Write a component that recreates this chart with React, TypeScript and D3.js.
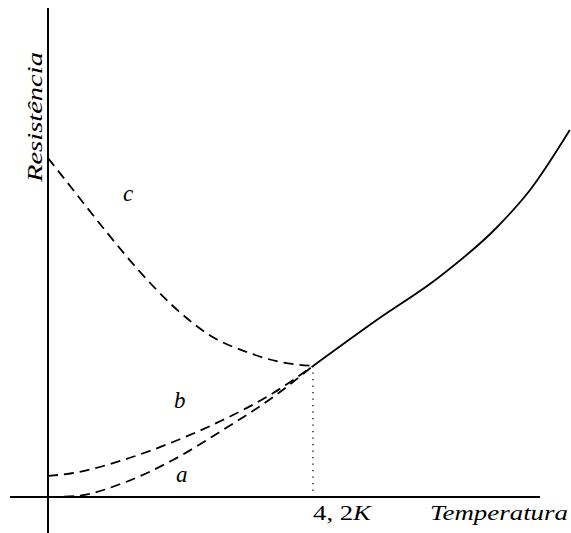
import React from 'react';
import * as d3 from 'd3';

// curve data: temperature (arbitrary units, 4.2 = critical point), resistance (arbitrary)
const solidCurve: [number, number][] = [
  [4.2, 13.1], [5.21, 17.7], [6.18, 21.9], [7.12, 27.0], [7.64, 30.7], [8.27, 36.7],
];
const curveC: [number, number][] = [
  [0, 33.9], [0.4, 30.7], [0.94, 26.4], [1.46, 22.5], [1.98, 19.1], [2.61, 16.0], [3.15, 14.5], [3.68, 13.5], [4.2, 13.1],
];
const curveB: [number, number][] = [
  [0, 2.1], [0.4, 2.4], [1.19, 3.7], [1.98, 5.5], [2.77, 7.7], [3.57, 10.4], [4.2, 13.1],
];
const curveA: [number, number][] = [
  [0, 0], [0.45, 0.1], [1.19, 1.4], [1.98, 3.7], [2.77, 6.7], [3.57, 10.0], [4.2, 13.1],
];
const curveLabels = [
  { name: 'c', t: 1.27, r: 29.6 },
  { name: 'b', t: 2.09, r: 8.9 },
  { name: 'a', t: 2.12, r: 1.5 },
];
const criticalT = 4.2;
const xTitle = 'Temperatura';
const yTitle = 'Resistência';

const W = 571;
const H = 533;
const font = '"Liberation Serif", serif';

export default function App() {
  const x = d3.scaleLinear().domain([0, 4.2]).range([48, 313]);
  const y = d3.scaleLinear().domain([0, 10]).range([497, 397]);

  const line = d3.line<[number, number]>()
    .x(d => x(d[0]))
    .y(d => y(d[1]))
    .curve(d3.curveMonotoneX);

  const critR = solidCurve[0][1];

  return (
    <svg width={W} height={H} style={{ position: 'absolute', left: 0, top: 0, background: '#fff' }}>
      {/* axes */}
      <line x1={x(0)} x2={x(0)} y1={8} y2={533} stroke="#000" strokeWidth={2} />
      <line x1={10} x2={540} y1={y(0)} y2={y(0)} stroke="#000" strokeWidth={2} />

      {/* dotted marker at critical temperature */}
      <line x1={x(criticalT)} x2={x(criticalT)} y1={y(critR)} y2={y(0)}
        stroke="#000" strokeWidth={1.3} strokeDasharray="1.3 5.2" />

      <path d={line(curveC) || ''} fill="none" stroke="#000" strokeWidth={1.8} strokeDasharray="10 6" />
      <path d={line(curveB) || ''} fill="none" stroke="#000" strokeWidth={1.8} strokeDasharray="10 6" />
      <path d={line(curveA) || ''} fill="none" stroke="#000" strokeWidth={1.8} strokeDasharray="10 6" />
      <path d={line(solidCurve) || ''} fill="none" stroke="#000" strokeWidth={1.8} />

      {curveLabels.map(l => (
        <text key={l.name} x={x(l.t)} y={y(l.r)} textAnchor="middle"
          fontFamily={font} fontStyle="italic" fontSize={23}>{l.name}</text>
      ))}

      <text x={x(criticalT)} y={520} fontFamily={font} fontSize={21}
        textLength={58} lengthAdjust="spacingAndGlyphs">4, 2<tspan fontStyle="italic">K</tspan></text>
      <text x={430} y={520} fontFamily={font} fontStyle="italic" fontSize={21}
        textLength={138} lengthAdjust="spacingAndGlyphs">{xTitle}</text>
      <text transform="translate(42,117) rotate(-90)" textAnchor="middle" fontFamily={font}
        fontStyle="italic" fontSize={21} textLength={130} lengthAdjust="spacingAndGlyphs">{yTitle}</text>
    </svg>
  );
}
